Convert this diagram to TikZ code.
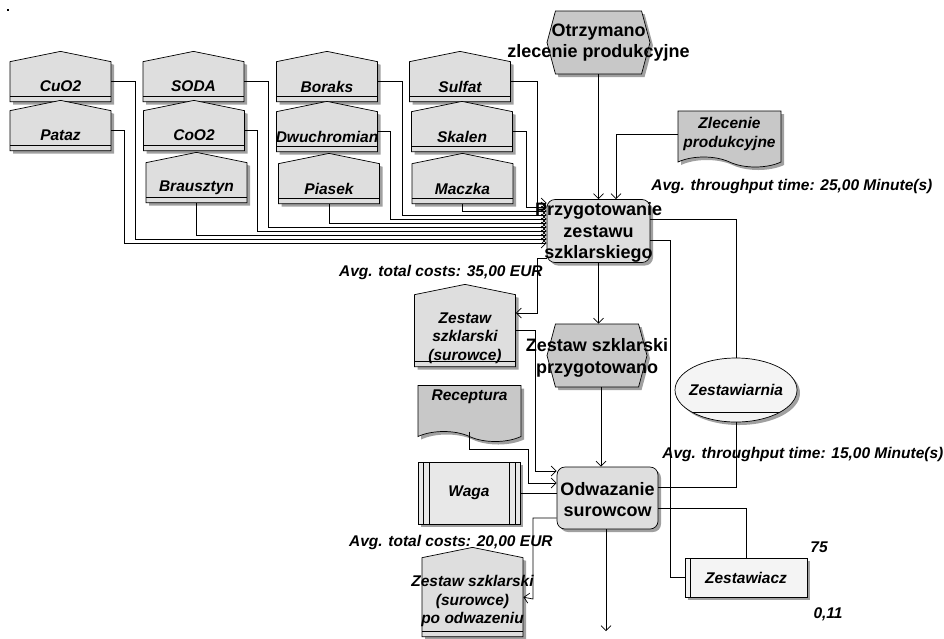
\documentclass[tikz,border=0pt]{standalone}
\usepackage{fontspec}
\setmainfont{Liberation Sans}
\usepackage{xcolor}
\definecolor{evgray}{RGB}{200,200,200}
\definecolor{fngray}{RGB}{222,222,222}
\definecolor{orggray}{RGB}{244,244,244}
\definecolor{shgray}{RGB}{160,160,160}
\usetikzlibrary{shapes.geometric, shapes.symbols, shadows, arrows.meta, positioning}
\newcommand{\ov}[1]{\makebox[0pt]{#1}}
% pierwsza linia z dodatkowa wysokoscia -> tekst nizej o polowe
\newcommand{\dn}[2]{\ov{\raisebox{0pt}[\dimexpr\height+#1\relax]{#2}}}

\begin{document}
\begin{tikzpicture}
[x=1pt, y=-1pt,
 line width=0.7pt,
 >={Straight Barb[length=5pt,width=10pt]},
 every node/.style={inner sep=0pt},
 dropsh/.style={drop shadow={shadow xshift=3pt, shadow yshift=-3pt, fill=shgray, opacity=1}},
 objfont/.style={font=\fontsize{15.5}{18.5}\selectfont\bfseries\itshape, align=center},
 bigfont/.style={font=\fontsize{18}{21.5}\selectfont\bfseries, align=center},
 material/.style={signal, signal to=north, signal pointer angle=157, draw, fill=fngray, dropsh, objfont,
   minimum width=101pt, minimum height=40pt,
   path picture={\draw ([yshift=5pt]path picture bounding box.south west) -- ([yshift=5pt]path picture bounding box.south east);}},
 event/.style={signal, signal to=west and east, signal pointer angle=150, draw, fill=evgray, dropsh, bigfont,
   minimum width=103pt, minimum height=63pt},
 func/.style={rectangle, rounded corners=8pt, draw, fill=fngray, dropsh, bigfont,
   minimum width=103pt, minimum height=63pt},
 docbox/.style={tape, tape bend top=none, tape bend bottom=out and in, tape bend height=10pt,
   draw, fill=evgray, dropsh, objfont, minimum width=103pt, minimum height=56pt},
 orgunit/.style={ellipse, draw, fill=orggray, dropsh, objfont, minimum width=122pt, minimum height=64pt,
   path picture={\draw ([yshift=10pt]path picture bounding box.south west) -- ([yshift=10pt]path picture bounding box.south east);}},
 posbox/.style={rectangle, draw, fill=orggray, dropsh, objfont, minimum width=122pt, minimum height=39pt,
   path picture={\draw ([xshift=5pt]path picture bounding box.north west) -- ([xshift=5pt]path picture bounding box.south west);}},
 sysbox/.style={rectangle, draw, fill=fngray!70, dropsh, objfont, minimum width=102pt, minimum height=62pt,
   path picture={\draw ([xshift=5pt]path picture bounding box.north west) -- ([xshift=5pt]path picture bounding box.south west)
     ([xshift=11pt]path picture bounding box.north west) -- ([xshift=11pt]path picture bounding box.south west)
     ([xshift=-5pt]path picture bounding box.north east) -- ([xshift=-5pt]path picture bounding box.south east)
     ([xshift=-11pt]path picture bounding box.north east) -- ([xshift=-11pt]path picture bounding box.south east);}},
 note/.style={objfont}
]
\useasboundingbox (0,0) rectangle (944,638);
\fill (7,9) rectangle (9,11);

% materialy
\node[material, anchor=south] (cuo)    at (60.5,102)  {\dn{10pt}{CuO2}};
\node[material, anchor=south] (pataz)  at (60.5,151)  {\dn{10pt}{Pataz}};
\node[material, anchor=south] (soda)   at (193.5,102) {\dn{10pt}{SODA}};
\node[material, anchor=south] (coo)    at (194,151)   {\dn{10pt}{CoO2}};
\node[material, anchor=south] (braus)  at (196.5,203) {\dn{10pt}{Brausztyn}};
\node[material, anchor=south] (boraks) at (327,102)   {\dn{10pt}{Boraks}};
\node[material, anchor=south] (dwuch)  at (327,152)   {\dn{10pt}{Dwuchromian}};
\node[material, anchor=south] (piasek) at (329,204)   {\dn{10pt}{Piasek}};
\node[material, anchor=south] (sulfat) at (460,102)   {\dn{10pt}{Sulfat}};
\node[material, anchor=south] (skalen) at (462,152)   {\dn{10pt}{Skalen}};
\node[material, anchor=south] (maczka) at (462.5,204) {\dn{10pt}{Maczka}};

% zdarzenia i funkcje
\node[event] (e1) at (598.5,42.5) {\ov{Otrzymano}\\\ov{zlecenie produkcyjne}};
\node[func]  (f1) at (598.5,231)  {\dn{3pt}{Przygotowanie}\\\ov{zestawu}\\\ov{szklarskiego}};
\node[event, minimum width=100pt] (e2) at (597,355.5) {\dn{5pt}{Zestaw szklarski}\\\ov{przygotowano}};
\node[func, minimum width=101pt, minimum height=62pt] (f2) at (607.5,498) {\dn{3pt}{Odwazanie}\\\ov{surowcow}};

\node[docbox] (zlec) at (729.5,134) {\ov{Zlecenie}\\\ov{produkcyjne}};
\node[docbox, text depth=27pt] (rec) at (469.5,408.5) {\ov{Receptura}};
\node[material, anchor=south, minimum height=72pt] (zss) at (465,367) {\dn{15pt}{Zestaw}\\\ov{szklarski}\\\ov{(surowce)}};
\node[material, anchor=south, minimum height=79pt] (zsspo) at (472.5,637) {\dn{8pt}{Zestaw szklarski}\\\ov{(surowce)}\\\ov{po odwazeniu}};
\node[sysbox]  (waga) at (469,493)   {\ov{Waga}};
\node[orgunit] (org)  at (736,390)   {\ov{Zestawiarnia}};
\node[posbox]  (zest) at (746,577.5) {\ov{Zestawiacz}};
\coordinate (out) at (606,631);

% opisy
\node[note, anchor=west] at (651,186) {Avg. throughput time: 25,00 Minute(s)};
\node[note, anchor=east] at (543,272) {Avg. total costs: 35,00 EUR};
\node[note, anchor=west] at (662,454) {Avg. throughput time: 15,00 Minute(s)};
\node[note, anchor=east] at (553,542) {Avg. total costs: 20,00 EUR};
\node[note] at (819,547) {75};
\node[note] at (828,614) {0,11};

% polaczenia
\draw[->] (sulfat.east) -| (537,203) -- (f1.west |- 0,203);
\draw[->] (skalen.east) -| (526,207) -- (f1.west |- 0,207);
\draw[->] (maczka.south) |- (f1.west |- 0,211);
\draw[->] (boraks.east) -| (402,215) -- (f1.west |- 0,215);
\draw[->] (dwuch.east) -| (390,219) -- (f1.west |- 0,219);
\draw[->] (piasek.south) |- (f1.west |- 0,223);
\draw[->] (soda.east) -| (268,227) -- (f1.west |- 0,227);
\draw[->] (coo.east) -| (257,231) -- (f1.west |- 0,231);
\draw[->] (braus.south) |- (f1.west |- 0,235);
\draw[->] (cuo.east) -| (135,239) -- (f1.west |- 0,239);
\draw[->] (pataz.east) -| (124,243) -- (f1.west |- 0,243);

\draw[->] (e1) -- (f1);
\draw[->] (zlec.west) -| ([xshift=17.5pt]f1.north);
\draw ([yshift=12pt]f1.east) -| (org.north);
\draw ([yshift=-9pt]f1.east) -| ([xshift=-14pt]zest.west) -- (zest.west);
\draw[->] ([yshift=-27pt]f1.west) -| (537,313) -- (zss.east |- 0,313);
\draw[->] (f1.south) -- (f1.south |- e2.north);

\draw[->] (zss.east) -| (535,471) -- (f2.west |- 0,471);
\draw[->] ([xshift=4pt]e2.south) -- ([xshift=4pt]e2.south |- f2.north);
\draw[->] (rec.south) |- (528,449) |- (f2.west |- 0,483);
\draw (waga.east) -- (waga.east -| f2.west);
\draw[->] ([yshift=-20pt]f2.west) -| (533,599) -- (zsspo.east);
\draw[->] (f2.south -| out) -- (out);
\draw ([yshift=11pt]f2.east) -| (org.south);
\draw ([yshift=-10pt]f2.east) -| (zest.north);
\end{tikzpicture}
\end{document}
